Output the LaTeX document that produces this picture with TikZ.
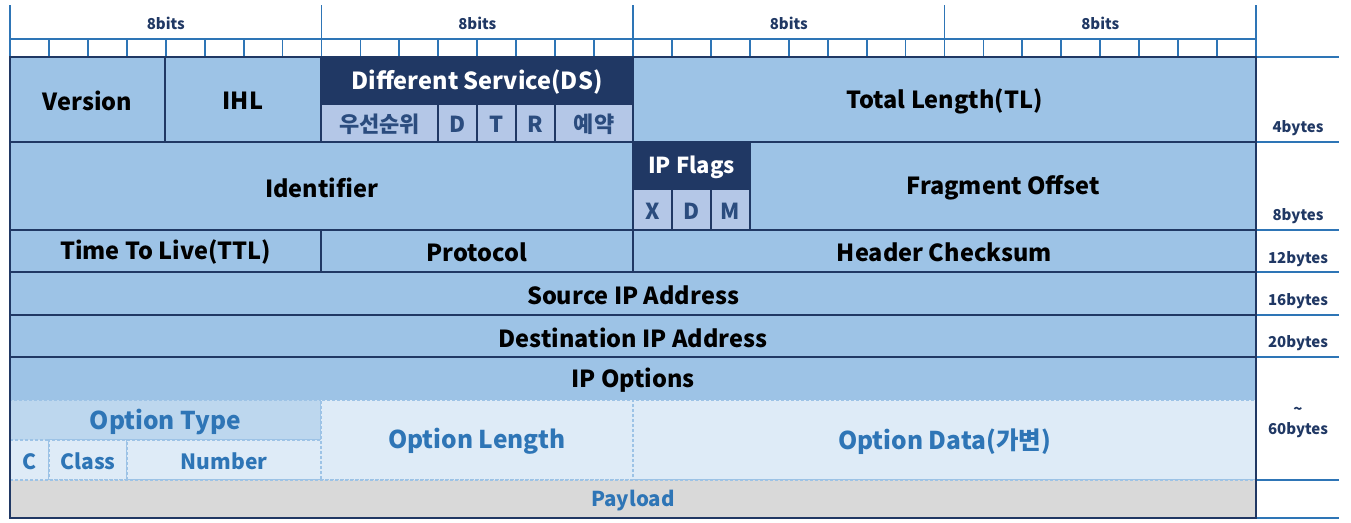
\documentclass[tikz,border=0pt]{standalone}
\usepackage{fontspec}
\setmainfont{Noto Sans CJK KR}
\definecolor{navy}{HTML}{203864}
\definecolor{cellblue}{HTML}{9DC3E6}
\definecolor{subblue}{HTML}{B4C7E7}
\definecolor{subtext}{HTML}{2B4C7E}
\definecolor{opthead}{HTML}{BDD7EE}
\definecolor{optlight}{HTML}{DEEBF7}
\definecolor{opttext}{HTML}{2E75B6}
\definecolor{rulerblue}{HTML}{2E75B6}
\definecolor{paygray}{HTML}{D9D9D9}
\newcommand\fsz[1]{\fontsize{#1}{#1}\selectfont\bfseries}
% \fld{name}{x1}{y1}{x2}{y2}{style}{text}: a field box between two corners,
% its text set a little below the optical centre
\newcommand\fld[7]{\node[#6, minimum width={(#4-#2)*1pt}, minimum height={(#5-#3)*1pt}] (#1) at ({(#2+#4)/2},{(#3+#5)/2}) {\raisebox{-1.5pt}[\height][\depth]{#7}};}
\begin{document}
\begin{tikzpicture}[x=1pt,y=-1pt,
  base/.style={inner sep=0pt, outer sep=0pt},
  field/.style={base, draw=navy, line width=1.6pt, fill=cellblue, text=black, font=\fsz{23.5}},
  headbox/.style={base, draw=navy, line width=1.6pt, fill=navy, text=white, font=\fsz{23.5}},
  subbox/.style={base, draw=navy, line width=1.6pt, fill=subblue, text=subtext, font=\fsz{22}},
  optbox/.style={base, draw=cellblue, line width=1.3pt, densely dashed, fill=optlight, text=opttext, font=\fsz{24.5}},
  opthdr/.style={optbox, fill=opthead},
  optsub/.style={optbox, font=\fsz{21}},
  rulerline/.style={draw=rulerblue, line width=1.8pt},
  bitlabel/.style={text=navy, font=\fsz{15}},
  bytelabel/.style={text=navy, font=\fsz{15}}]
\useasboundingbox (0,0) rectangle (1351,522);

% bit ruler above the header
\foreach \i in {0,...,32}{
  \pgfmathsetmacro\xx{10+\i*38.9375}
  \draw[rulerline] (\xx,39) -- (\xx,57);
}
\foreach \i in {0,...,4}{
  \pgfmathsetmacro\xx{10+\i*311.5}
  \draw[rulerline] (\xx,5) -- (\xx,57);
}
\draw[rulerline] (10,39) -- (1256,39);
\foreach \i/\nm in {0/ba,1/bb,2/bc,3/bd}{
  \pgfmathsetmacro\xx{10+\i*311.5+155.75}
  \node[bitlabel] (\nm) at (\xx,23) {8bits};
}

% byte scale on the right
\foreach \yy in {57,142,230,272,315,357,480,518}
  \draw[rulerline] (1256,\yy) -- (1339,\yy);
\node[bytelabel] (b4)  at (1298,128) {4bytes};
\node[bytelabel] (b8)  at (1298,216) {8bytes};
\node[bytelabel] (b12) at (1298,259) {12bytes};
\node[bytelabel] (b16) at (1298,301) {16bytes};
\node[bytelabel] (b20) at (1298,343) {20bytes};
\node[bytelabel] (bt)  at (1298,411) {\textasciitilde};
\node[bytelabel] (b60) at (1298,430) {60bytes};

% word 1
\fld{ver}{10}{57}{165}{142}{field}{Version}
\fld{ihl}{165}{57}{321}{142}{field}{IHL}
\fld{ds}{321}{57}{633}{104}{headbox}{Different Service(DS)}
\fld{prio}{321}{104}{438}{142}{subbox}{우선순위}
\fld{dsd}{438}{104}{477}{142}{subbox}{D}
\fld{dst}{477}{104}{516}{142}{subbox}{T}
\fld{dsr}{516}{104}{555}{142}{subbox}{R}
\fld{rsv}{555}{104}{633}{142}{subbox}{예약}
\fld{tl}{633}{57}{1256}{142}{field}{Total Length(TL)}

% word 2
\fld{ident}{10}{142}{633}{230}{field}{Identifier}
\fld{flags}{633}{142}{750}{189}{headbox, font=\fsz{22}}{IP Flags}
\fld{fx}{633}{189}{672}{230}{subbox}{X}
\fld{fd}{672}{189}{711}{230}{subbox}{D}
\fld{fm}{711}{189}{750}{230}{subbox}{M}
\fld{frag}{750}{142}{1256}{230}{field}{Fragment Offset}

% words 3 to 5
\fld{ttl}{10}{230}{321}{272}{field}{Time To Live(TTL)}
\fld{proto}{321}{230}{633}{272}{field}{Protocol}
\fld{chk}{633}{230}{1256}{272}{field}{Header Checksum}
\fld{src}{10}{272}{1256}{315}{field}{Source IP Address}
\fld{dst}{10}{315}{1256}{357}{field}{Destination IP Address}

% options
\fld{opt}{10}{357}{1256}{400}{field, draw=none}{IP Options}
\draw[navy, line width=1.6pt] (10,357) -- (1256,357);
\fld{otype}{10}{400}{321}{440}{opthdr}{Option Type}
\fld{oc}{10}{440}{49}{480}{optsub}{C}
\fld{oclass}{49}{440}{127}{480}{optsub}{Class}
\fld{onum}{127}{440}{321}{480}{optsub}{Number}
\fld{olen}{321}{400}{633}{480}{optbox}{Option Length}
\fld{odata}{633}{400}{1256}{480}{optbox}{Option Data(가변)}

% payload
\fld{pay}{10}{480}{1256}{518}{base, fill=paygray, text=opttext, font=\fsz{20.5}}{Payload}
\draw[cellblue, line width=1.3pt, densely dashed] (10,480) -- (1256,480);

% outer frame
\draw[navy, line width=1.8pt] (10,57) rectangle (1256,518);
\end{tikzpicture}
\end{document}
